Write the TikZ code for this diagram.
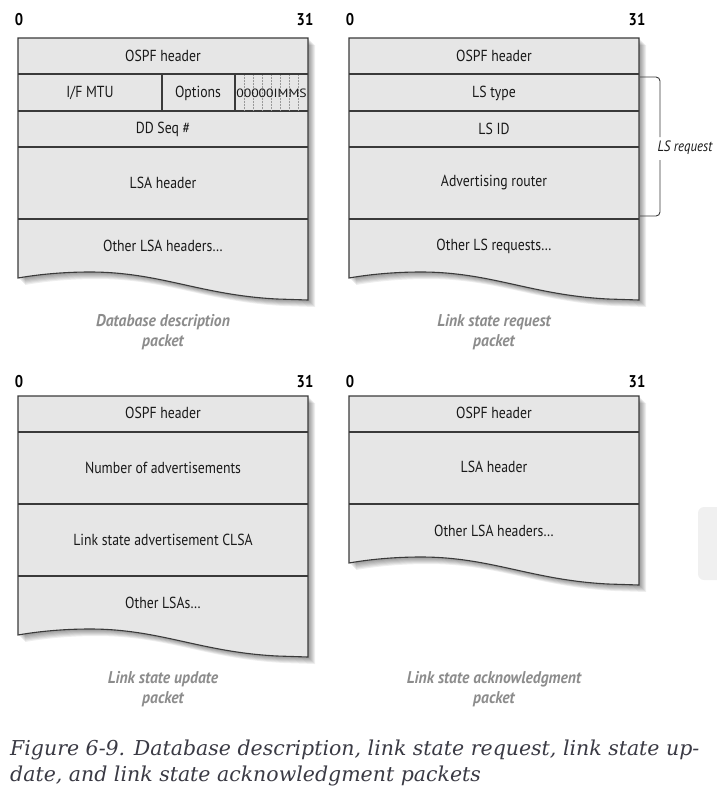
\documentclass[tikz,border=0pt]{standalone}
\usepackage{fontspec}
\setmainfont{Liberation Serif}
\newfontfamily\diagfont[FakeStretch=0.86]{PT Sans}
\newfontfamily\capdiag[FakeStretch=0.92]{PT Sans}
\newfontfamily\capfont{DejaVu Serif}
\definecolor{boxfill}{HTML}{E6E6E6}
\definecolor{edge}{HTML}{3A3A3A}
\definecolor{capgray}{HTML}{8C8C8C}
\definecolor{figtext}{HTML}{3A3A44}
\newcommand{\pktshape}[3]{%
  \foreach \o in {1,...,7}{%
    \fill[black,opacity=0.065,shift={(\o,\o)}] (#1,#2) -- ({#1+290},#2) -- ({#1+290},{#3+81}) -- ({#1+259},{#3+80}) .. controls ({#1+182},{#3+76}) and ({#1+142},{#3+53}) .. ({#1+72},{#3+53}) .. controls ({#1+42},{#3+53}) and ({#1+17},{#3+56}) .. (#1,{#3+59}) -- cycle;}
  \filldraw[fill=boxfill,draw=edge,line width=1.1pt] (#1,#2) -- ({#1+290},#2) -- ({#1+290},{#3+81}) -- ({#1+259},{#3+80}) .. controls ({#1+182},{#3+76}) and ({#1+142},{#3+53}) .. ({#1+72},{#3+53}) .. controls ({#1+42},{#3+53}) and ({#1+17},{#3+56}) .. (#1,{#3+59}) -- cycle;}
\tikzset{
  lbl/.style={font=\diagfont\fontsize{16}{18}\selectfont, text=black!90, inner sep=0pt},
  pktcaption/.style={font=\capdiag\bfseries\itshape\fontsize{17}{20}\selectfont, text=capgray, align=center, inner sep=0pt},
  bitnum/.style={font=\diagfont\bfseries\fontsize{17}{18}\selectfont, inner sep=0pt},
  rowline/.style={draw=edge,line width=1.1pt},
}
\begin{document}
\begin{tikzpicture}[x=1pt,y=-1pt]
\useasboundingbox (0,0) rectangle (717,790);
% side widget
\fill[fill=gray!12,rounded corners=6] (698,507) rectangle (730,580);

% ---------- Database description ----------
\pktshape{18}{38}{219}
\draw[rowline] (18,74) -- (308,74);
\draw[rowline] (18,111) -- (308,111);
\draw[rowline] (18,147) -- (308,147);
\draw[rowline] (18,219) -- (308,219);
\draw[rowline] (162,74) -- (162,111);
\draw[rowline] (235,74) -- (235,111);
\foreach \i in {1,...,7} \draw[densely dotted,gray!80,line width=0.5pt] ({235+9.1*\i},75) -- ({235+9.1*\i},110);
\node[bitnum] (dd0) at (19,20) {0};
\node[bitnum] (dd31) at (305,20) {31};
\node[lbl] (ddh) at (163,56) {OSPF header};
\node[lbl] (ddmtu) at (90,93) {I/F MTU};
\node[lbl] (ddopt) at (198,93) {Options};
\node[lbl,font=\diagfont\fontsize{12}{13}\selectfont] (ddbits) at (271.5,93) {\scalebox{1.33}[1]{00000IMMS}};
\node[lbl] (ddseq) at (163,129) {DD Seq \#};
\node[lbl] (ddlsa) at (163,183) {LSA header};
\node[lbl] (ddoth) at (163,246) {Other LSA headers\ldots};
\node[pktcaption] (ddcap) at (163,332) {Database description\\packet};

% ---------- Link state request ----------
\pktshape{349}{38}{219}
\draw[rowline] (349,74) -- (639,74);
\draw[rowline] (349,111) -- (639,111);
\draw[rowline] (349,147) -- (639,147);
\draw[rowline] (349,219) -- (639,219);
\node[bitnum] (rq0) at (350,20) {0};
\node[bitnum] (rq31) at (637,20) {31};
\node[lbl] (rqh) at (494,56) {OSPF header};
\node[lbl] (rqtype) at (494,93) {LS type};
\node[lbl] (rqid) at (494,129) {LS ID};
\node[lbl] (rqadv) at (494,183) {Advertising router};
\node[lbl] (rqoth) at (494,246) {Other LS requests\ldots};
\node[pktcaption] (rqcap) at (494,332) {Link state request\\packet};
\node[lbl,font=\diagfont\itshape\fontsize{15}{16}\selectfont] (rqbrace) at (685,148) {LS request};
\draw[edge,line width=0.9pt,rounded corners=4] (640,77) -- (660,77) -- (660,137);
\draw[edge,line width=0.9pt,rounded corners=4] (660,160) -- (660,216) -- (640,216);

% ---------- Link state update ----------
\pktshape{18}{396}{576}
\draw[rowline] (18,432) -- (308,432);
\draw[rowline] (18,504) -- (308,504);
\draw[rowline] (18,576) -- (308,576);
\node[bitnum] (up0) at (19,382) {0};
\node[bitnum] (up31) at (305,382) {31};
\node[lbl] (uph) at (163,413) {OSPF header};
\node[lbl] (upnum) at (163,468) {Number of advertisements};
\node[lbl] (uplsa) at (163,540) {Link state advertisement CLSA};
\node[lbl] (upoth) at (163,603) {Other LSAs\ldots};
\node[pktcaption] (upcap) at (163,689) {Link state update\\packet};

% ---------- Link state acknowledgment ----------
\pktshape{349}{396}{504}
\draw[rowline] (349,432) -- (639,432);
\draw[rowline] (349,504) -- (639,504);
\node[bitnum] (ak0) at (350,382) {0};
\node[bitnum] (ak31) at (637,382) {31};
\node[lbl] (akh) at (494,413) {OSPF header};
\node[lbl] (aklsa) at (494,467) {LSA header};
\node[lbl] (akoth) at (494,531) {Other LSA headers\ldots};
\node[pktcaption] (akcap) at (494,689) {Link state acknowledgment\\packet};

% ---------- Figure caption ----------
\node[anchor=base west,inner sep=0pt,align=left,text=figtext,font=\capfont\itshape\fontsize{20.5}{26}\selectfont] (figcap) at (10,781)
  {Figure 6-9. Database description, link state request, link state up-\\date, and link state acknowledgment packets};
\end{tikzpicture}
\end{document}
